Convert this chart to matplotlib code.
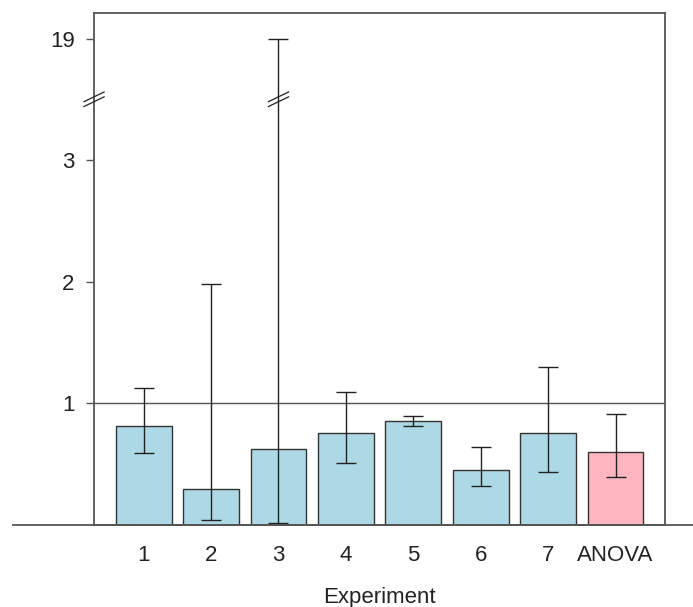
import matplotlib
matplotlib.use('Agg')
import matplotlib.pyplot as plt
from matplotlib.lines import Line2D

plt.rcParams['font.family'] = ['Liberation Sans', 'DejaVu Sans']

labels = ['1', '2', '3', '4', '5', '6', '7', 'ANOVA']
means = [0.81, 0.29, 0.62, 0.75, 0.85, 0.45, 0.75, 0.60]
err_low = [0.59, 0.04, 0.01, 0.51, 0.81, 0.32, 0.43, 0.39]
err_high = [1.12, 1.98, 19.0, 1.09, 0.89, 0.64, 1.30, 0.91]
bar_colors = ['#ADD8E6'] * 7 + ['#FFB6C1']

BREAK = 3.5


def squash(v):
    # values above the break are compressed so 19 lands one unit above 3
    if v <= BREAK:
        return v
    return BREAK + (v - BREAK) * 0.5 / (19.0 - BREAK)


fig = plt.figure(figsize=(6.93, 6.07), dpi=100)
ax = fig.add_axes([94 / 693, (607 - 524.5) / 607, (665 - 94) / 693, (524.5 - 13) / 607])

x = list(range(len(labels)))
ax.bar(x, means, width=0.83, color=bar_colors, edgecolor='#333333', linewidth=1.0, zorder=2)

lo = [m - squash(l) for m, l in zip(means, err_low)]
hi = [squash(h) - m for m, h in zip(means, err_high)]
ax.errorbar(x, means, yerr=[lo, hi], fmt='none', ecolor='#222222', elinewidth=1.0,
            capsize=7.5, capthick=1.0, zorder=3)

ax.axhline(1, color='#555555', linewidth=1.0, zorder=1)

ax.set_xlim(-0.737, 7.734)
ax.set_ylim(0, 4.21)

ax.set_yticks([1, 2, 3, squash(19)])
ax.set_yticklabels(['1', '2', '3', '19'])
ax.set_xticks(x)
ax.set_xticklabels(labels)
ax.tick_params(axis='y', length=6, width=1.0, color='#555555', pad=8, labelsize=16, labelcolor='#222222')
ax.tick_params(axis='x', length=0, pad=15, labelsize=16, labelcolor='#222222')

for s in ax.spines.values():
    s.set_color('#555555')
    s.set_linewidth(1.3)

# break marks on the y axis and on the long error bar
for xb in [-0.737, 2]:
    for dy in [-0.02, 0.02]:
        ax.plot([xb - 0.15, xb + 0.15], [BREAK - 0.04 + dy, BREAK + 0.04 + dy],
                color='#222222', linewidth=0.9, clip_on=False, zorder=4)

# baseline running past the box
fig.add_artist(Line2D([13 / 693, 1.0], [(607 - 524.5) / 607] * 2, color='#555555', linewidth=1.3))

fig.text(0.5 * (94 + 665) / 693, (607 - 602.7) / 607, 'Experiment', ha='center', va='baseline',
         fontsize=16, color='#222222')

fig.savefig('out.png', dpi=100)
